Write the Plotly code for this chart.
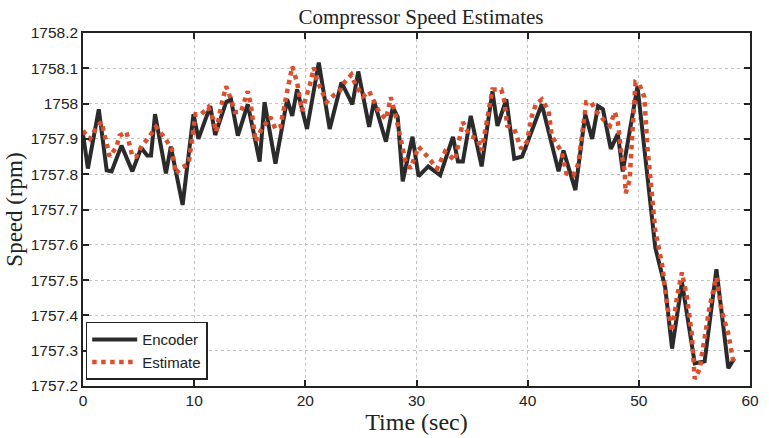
import plotly.graph_objects as go

# Encoder (black solid)
enc_t = [0.00, 0.44, 1.42, 2.13, 2.57, 3.46, 4.44, 5.24, 5.77, 6.12, 6.48, 7.46, 7.90, 8.96, 9.94,
         10.38, 11.45, 11.89, 12.87, 13.31, 13.93, 14.82, 15.89, 16.33, 17.31, 18.37, 18.82, 19.26,
         20.15, 21.21, 22.19, 23.25, 24.23, 24.76, 25.74, 26.18, 27.25, 27.87, 28.31, 28.76, 29.64,
         30.18, 31.06, 32.13, 33.28, 33.73, 34.17, 34.88, 35.86, 36.83, 37.28, 38.08, 38.79, 39.50,
         41.27, 42.78, 43.22, 44.29, 45.18, 45.80, 46.33, 46.77, 47.48, 48.11, 48.55, 49.88, 51.48,
         52.37, 52.99, 53.88, 55.03, 55.92, 56.98, 58.05, 58.58]
enc_v = [1757.914, 1757.816, 1757.984, 1757.811, 1757.808, 1757.881, 1757.808, 1757.875, 1757.853,
         1757.853, 1757.970, 1757.802, 1757.878, 1757.713, 1757.970, 1757.900, 1757.993, 1757.911,
         1758.004, 1758.012, 1757.909, 1757.998, 1757.836, 1758.004, 1757.830, 1758.012, 1757.965,
         1758.040, 1757.928, 1758.116, 1757.928, 1758.060, 1757.998, 1758.091, 1757.934, 1758.007,
         1757.892, 1757.990, 1757.962, 1757.780, 1757.906, 1757.794, 1757.822, 1757.797, 1757.906,
         1757.836, 1757.836, 1757.965, 1757.822, 1758.035, 1757.937, 1758.012, 1757.844, 1757.850,
         1757.998, 1757.808, 1757.867, 1757.755, 1757.970, 1757.900, 1757.993, 1757.984, 1757.872,
         1757.914, 1757.808, 1758.049, 1757.592, 1757.480, 1757.306, 1757.494, 1757.264, 1757.270,
         1757.531, 1757.250, 1757.278]

# Estimate (red dotted)
est_t = [0.00, 0.62, 1.24, 1.69, 1.95, 2.40, 3.02, 3.28, 3.91, 4.17, 4.44, 4.79, 5.24, 5.95, 6.57,
         7.28, 7.99, 8.34, 8.79, 9.50, 9.76, 10.12, 10.65, 11.27, 11.72, 11.98, 12.43, 12.87, 13.31,
         13.67, 14.20, 14.82, 15.09, 15.53, 15.98, 16.86, 17.31, 17.75, 18.37, 18.82, 19.26, 19.70,
         20.41, 20.77, 21.03, 21.48, 21.92, 22.63, 23.08, 23.52, 24.14, 24.58, 25.21, 25.74, 26.18,
         26.63, 27.25, 27.69, 28.13, 28.58, 29.02, 29.47, 30.18, 30.98, 31.86, 32.57, 33.46, 34.17,
         34.79, 35.50, 35.86, 36.83, 37.63, 37.90, 38.16, 38.79, 39.05, 39.41, 39.94, 40.38, 40.74,
         41.27, 41.89, 42.16, 42.60, 43.05, 43.49, 44.11, 44.56, 45.00, 45.27, 45.71, 46.15, 46.77,
         47.40, 47.84, 48.11, 48.37, 48.73, 48.81, 49.17, 49.44, 49.70, 50.06, 50.50, 50.77, 51.21,
         51.48, 52.10, 52.54, 52.99, 53.43, 53.88, 54.32, 54.76, 55.03, 55.47, 55.83, 56.36, 56.98,
         57.42, 58.05, 58.49]
est_v = [1757.923, 1757.900, 1757.934, 1757.948, 1757.909, 1757.850, 1757.878, 1757.909, 1757.920,
         1757.886, 1757.850, 1757.850, 1757.878, 1757.906, 1757.934, 1757.906, 1757.872, 1757.802,
         1757.816, 1757.830, 1757.900, 1757.970, 1757.970, 1757.990, 1757.956, 1757.920, 1757.993,
         1758.049, 1758.012, 1757.976, 1757.976, 1758.035, 1757.998, 1757.892, 1757.923, 1757.962,
         1757.928, 1757.934, 1758.035, 1758.105, 1758.060, 1757.979, 1758.054, 1758.102, 1758.068,
         1758.032, 1758.004, 1758.026, 1758.035, 1758.060, 1758.082, 1758.049, 1758.021, 1758.035,
         1758.007, 1757.976, 1757.956, 1758.018, 1757.965, 1757.900, 1757.836, 1757.816, 1757.878,
         1757.850, 1757.816, 1757.864, 1757.839, 1757.948, 1757.909, 1757.900, 1757.867, 1758.040,
         1758.040, 1758.007, 1757.937, 1757.928, 1757.906, 1757.872, 1757.892, 1757.965, 1757.998,
         1758.012, 1757.979, 1757.909, 1757.886, 1757.864, 1757.802, 1757.797, 1757.830, 1757.928,
         1758.004, 1758.004, 1757.979, 1757.956, 1757.937, 1757.976, 1757.948, 1757.872, 1757.808,
         1757.746, 1757.783, 1757.928, 1758.060, 1758.054, 1758.018, 1757.878, 1757.713, 1757.640,
         1757.542, 1757.430, 1757.354, 1757.452, 1757.522, 1757.452, 1757.348, 1757.220, 1757.248,
         1757.318, 1757.424, 1757.508, 1757.416, 1757.348, 1757.270]

x_ticks = [0, 10, 20, 30, 40, 50, 60]
y_ticks = [1757.2, 1757.3, 1757.4, 1757.5, 1757.6, 1757.7, 1757.8, 1757.9, 1758.0, 1758.1, 1758.2]
y_labels = ["1757.2", "1757.3", "1757.4", "1757.5", "1757.6", "1757.7", "1757.8", "1757.9",
            "1758", "1758.1", "1758.2"]

fig = go.Figure()
fig.add_trace(go.Scatter(x=enc_t, y=enc_v, mode="lines", name="Encoder",
                         line=dict(color="#2b2b2b", width=4)))
fig.add_trace(go.Scatter(x=est_t, y=est_v, mode="lines", name="Estimate",
                         line=dict(color="#d9502f", width=4.5, dash="dot")))

axis_common = dict(showline=True, linecolor="#222", linewidth=1.5, mirror="ticks",
                   ticks="inside", ticklen=6, tickwidth=1.5, tickcolor="#222",
                   showgrid=True, gridcolor="#c4c4c4", gridwidth=1, griddash="dot",
                   zeroline=False,
                   tickfont=dict(family="Liberation Sans, Arial", size=15.5, color="#222"))

fig.update_xaxes(range=[0, 60], tickvals=x_ticks, ticktext=[str(v) for v in x_ticks],
                 title=dict(text="Time (sec)", font=dict(family="Liberation Serif, Times New Roman",
                                                         size=24, color="#222"), standoff=2),
                 **axis_common)
fig.update_yaxes(range=[1757.2, 1758.2], tickvals=y_ticks, ticktext=y_labels,
                 title=dict(text="Speed (rpm)", font=dict(family="Liberation Serif, Times New Roman",
                                                          size=23, color="#222"), standoff=2),
                 **axis_common)

fig.update_layout(
    width=769, height=438,
    margin=dict(l=83, r=10, t=33, b=48),
    paper_bgcolor="white", plot_bgcolor="white",
    title=dict(text="Compressor Speed Estimates", x=0.5475, xanchor="center", y=0.962, yanchor="middle",
               font=dict(family="Liberation Serif, Times New Roman", size=21, color="#222")),
    legend=dict(x=0.004, y=0.018, xanchor="left", yanchor="bottom",
                bordercolor="#222", borderwidth=1.5, bgcolor="white",
                font=dict(family="Liberation Sans, Arial", size=15, color="#222"),
                tracegroupgap=0, itemwidth=45),
    showlegend=True,
)

fig.write_html("out.html")
